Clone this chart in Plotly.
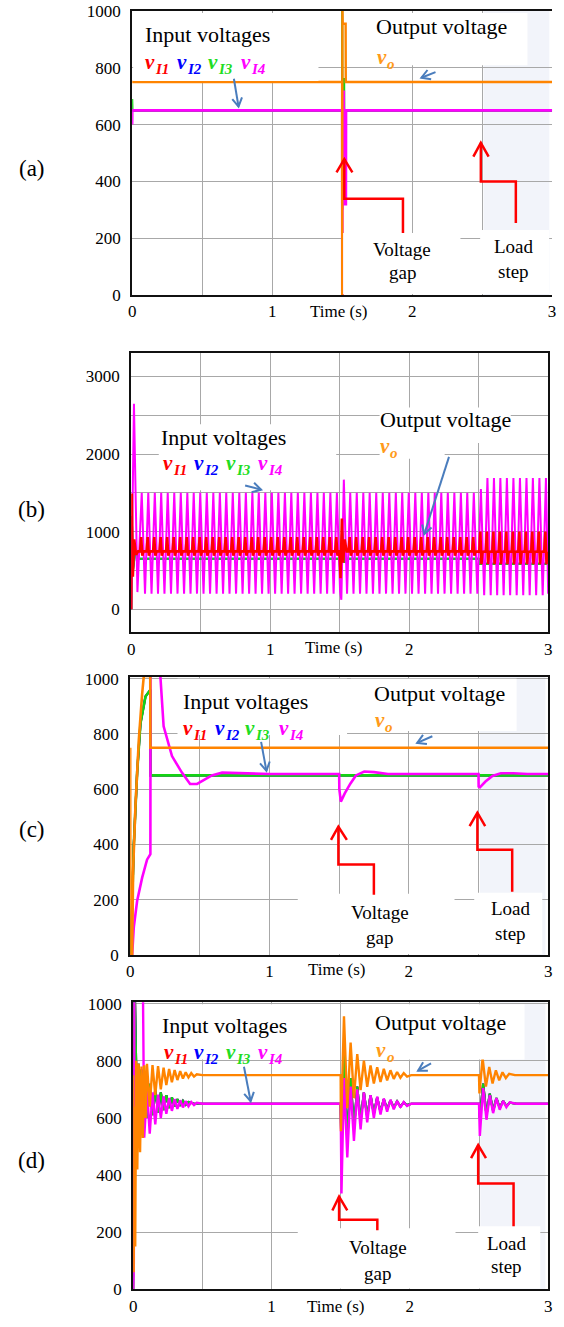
import math
import plotly.graph_objects as go

W, H = 564, 1327
SERIF = "Liberation Serif, Times New Roman, serif"

C_I1, C_I2, C_I3, C_I4, C_O = "#ff0000", "#0000ff", "#14d414", "#ff00ff", "#ff8400"
GRID = "#a8a8a8"
BLUE_ARROW = "#4a7dbd"
RED_ARROW = "#ff0000"
SHADE = "#f2f4fa"

# ---------------- axis ticks ----------------
t_tickvals = [0, 0.5, 1, 1.5, 2, 2.5, 3]
t_ticktext = ["0", " ", "1", " ", "2", " ", "3"]
v_tickvals = [0, 200, 400, 600, 800, 1000]
v_ticktext = ["0", "200", "400", "600", "800", "1000"]
vb_tickvals = [0, 500, 1000, 1500, 2000, 2500, 3000]
vb_ticktext = ["0", " ", "1000", " ", "2000", " ", "3000"]

# ---------------- (a) ----------------
a_t_vo = [0.0, 1.500, 1.5005, 1.502, 1.504, 1.525, 1.526, 3.0]
a_vo = [750, 750, 0, 1015, 955, 955, 750, 750]
a_t_vi4 = [0.0, 0.001, 1.500, 1.501, 1.502, 1.512, 1.513, 1.527, 1.528, 3.0]
a_vi4 = [600, 650, 650, 0, 500, 720, 320, 320, 650, 650]
a_t_vi3 = [0.0, 0.002, 1.500, 1.5005, 1.502, 1.503, 1.514, 1.515, 3.0]
a_vi3 = [690, 650, 650, 1000, 520, 760, 760, 650, 650]
a_t_vi12 = [0.0, 1.500, 1.501, 1.514, 1.515, 3.0]
a_vi1 = [650, 650, 300, 650, 650, 650]
a_vi2 = [650, 650, 320, 650, 650, 650]

# ---------------- (b) ----------------
b_peak_t_1 = [0.076, 0.123, 0.170, 0.216, 0.263, 0.310, 0.357, 0.404, 0.450, 0.497,
              0.544, 0.591, 0.638, 0.684, 0.731, 0.778, 0.825, 0.872, 0.918, 0.965,
              1.012, 1.059, 1.106, 1.152, 1.199, 1.246, 1.293, 1.340, 1.386, 1.433, 1.480]
b_peak_t_2 = [1.576, 1.623, 1.670, 1.716, 1.763, 1.810, 1.857, 1.904, 1.950, 1.997,
              2.044, 2.091, 2.138, 2.184, 2.231, 2.278, 2.325, 2.372, 2.418, 2.465]
b_peak_t_3 = [2.516, 2.563, 2.610, 2.656, 2.703, 2.750, 2.797, 2.844, 2.890, 2.937, 2.984]
b_vi4_peak = [1500, 1500, 1690]      # v_I4 crest level per interval
b_vi4_trough = [200, 200, 180]       # v_I4 valley level per interval
b_vi4_first_crest_3 = 1550
b_vi4_start_t, b_vi4_start = [0.0, 0.006, 0.020, 0.045], [0, 700, 2650, 220]
b_vi4_gap_t, b_vi4_gap = [1.503, 1.512, 1.530, 1.553], [230, 120, 1670, 200]
b_vi4_end_t, b_vi4_end = [3.0], [200]
b_vi1_base = [745, 745, 740]
b_vi1_spike = [930, 930, 1000]
b_vi1_dip = [690, 690, 580]
b_vi1_start_t, b_vi1_start = [0.0, 0.004, 0.012, 0.022, 0.035, 0.050], [0, 1490, 420, 900, 700, 745]
b_vi1_gap_t, b_vi1_gap = [1.500, 1.506, 1.516, 1.524, 1.536, 1.550], [745, 400, 1170, 600, 900, 745]
b_vi1_end_t, b_vi1_end = [3.0], [620]
b_t_vi3 = [0.0, 0.004, 0.012, 0.030, 0.050, 1.500, 1.506, 1.518, 1.535, 1.550, 2.500, 2.510, 3.0]
b_vi3 = [0, 1200, 500, 760, 650, 650, 420, 1000, 600, 650, 650, 585, 585]
b_t_vo = [0.0, 0.003, 3.0]
b_vo = [0, 745, 745]

# ---------------- (c) ----------------
c_t_vo = [0.0, 0.001, 0.014, 0.021, 0.038, 0.062, 0.086, 0.098, 0.144, 0.145, 3.0]
c_vo = [750, 0, 0, 304, 542, 780, 946, 1010, 1010, 750, 750]
c_t_vi3 = [0.0, 0.002, 0.014, 0.026, 0.050, 0.074, 0.110, 0.133, 0.145, 0.146, 3.0]
c_vi3 = [0, 0, 186, 399, 661, 839, 936, 954, 960, 650, 650]
c_t_vi4 = [0.0, 0.014, 0.026, 0.050, 0.086, 0.121, 0.145, 0.146, 0.200, 0.217, 0.240,
           0.300, 0.370, 0.430, 0.480, 0.586, 0.660, 0.800, 1.000,
           1.500, 1.501, 1.512, 1.540, 1.580, 1.620, 1.680, 1.750, 1.850,
           2.500, 2.501, 2.510, 2.550, 2.600, 2.660, 2.750, 2.850, 3.0]
c_vi4 = [0, 0, 101, 196, 280, 345, 365, 1100, 1100, 1007, 828,
         720, 661, 619, 619, 650, 660, 657, 655,
         655, 600, 555, 585, 620, 650, 664, 662, 655,
         655, 610, 607, 628, 648, 658, 658, 655, 655]

# ---------------- (d) ----------------
d_t_vo = [0.0, 0.004, 0.009, 0.015, 0.022, 0.030, 0.040, 0.050, 0.060, 0.070, 0.080,
          0.090, 0.100, 0.120, 0.140, 0.160, 0.180, 0.200, 0.220, 0.240, 0.260, 0.280,
          0.300, 0.320, 0.340, 0.360, 0.380, 0.400, 0.420, 0.440, 0.460, 0.500,
          1.500, 1.502, 1.524, 1.548, 1.572, 1.596, 1.620, 1.644, 1.668, 1.692, 1.716,
          1.740, 1.764, 1.788, 1.812, 1.836, 1.860, 1.884, 1.908, 1.932, 1.956, 1.980, 2.010,
          2.500, 2.503, 2.526, 2.550, 2.574, 2.598, 2.622, 2.646, 2.670, 2.694, 2.718, 2.760, 3.0]
d_vo = [750, 60, 640, 150, 800, 420, 790, 480, 780, 530, 785,
        600, 790, 640, 785, 680, 782, 700, 776, 715, 772, 725,
        768, 733, 764, 738, 760, 742, 757, 745, 753, 750,
        750, 554, 956, 634, 864, 669, 824, 698, 801, 709, 784,
        721, 778, 726, 772, 732, 767, 737, 761, 741, 757, 745, 750,
        750, 686, 810, 710, 779, 721, 767, 732, 760, 740, 755, 750, 750]
d_t_vi4 = [0.0, 0.005, 0.009, 0.070, 0.080, 0.100, 0.120, 0.140, 0.160, 0.180, 0.200,
           0.220, 0.240, 0.260, 0.280, 0.300, 0.320, 0.340, 0.360, 0.380, 0.400, 0.420,
           0.440, 0.460, 0.500,
           1.500, 1.506, 1.524, 1.548, 1.572, 1.596, 1.620, 1.644, 1.668, 1.692, 1.716,
           1.740, 1.764, 1.788, 1.812, 1.836, 1.860, 1.884, 1.908, 1.932, 1.956, 1.980, 2.010,
           2.500, 2.506, 2.530, 2.554, 2.578, 2.602, 2.626, 2.650, 2.674, 2.698, 2.722, 2.770, 3.0]
d_vi4 = [0, 80, 1100, 1100, 531, 700, 545, 690, 578, 682, 600,
         676, 615, 670, 625, 666, 632, 662, 637, 659, 641, 656,
         645, 653, 650,
         650, 336, 740, 462, 710, 520, 700, 560, 690, 585, 680,
         600, 675, 612, 668, 622, 664, 630, 660, 637, 656, 642, 650,
         650, 537, 705, 594, 680, 617, 669, 629, 660, 638, 655, 650, 650]
d_t_vi3 = [0.0, 0.004, 0.012, 0.020, 0.030, 0.040, 0.050, 0.060, 0.070, 0.080, 0.100,
           0.120, 0.140, 0.160, 0.180, 0.200, 0.220, 0.240, 0.260, 0.280, 0.300, 0.320,
           0.340, 0.360, 0.380, 0.400, 0.440,
           1.500, 1.506, 1.524, 1.548, 1.572, 1.596, 1.620, 1.644, 1.668, 1.692, 1.716,
           1.740, 1.764, 1.788, 1.812, 1.836, 1.860, 1.884, 1.908, 1.932, 1.956, 1.980, 2.010,
           2.500, 2.506, 2.530, 2.554, 2.578, 2.602, 2.626, 2.650, 2.674, 2.698, 2.722, 2.770, 3.0]
d_vi3 = [0, 1050, 1050, 790, 560, 790, 570, 770, 590, 750, 600,
         720, 610, 700, 620, 690, 628, 680, 635, 672, 640, 666,
         643, 660, 646, 656, 650,
         650, 480, 830, 520, 740, 560, 710, 590, 690, 605, 680,
         615, 672, 622, 666, 630, 662, 636, 658, 640, 655, 645, 650,
         650, 600, 720, 610, 685, 625, 670, 635, 660, 642, 654, 650, 650]

# ---------------- panel geometry (pixels) ----------------
PANELS = {
    1: dict(x=(130, 556), y=(3, 291), yr=[0, 1000], tv=v_tickvals, tt=v_ticktext, right=False),
    2: dict(x=(129, 552), y=(350, 633), yr=[-300, 3300], tv=vb_tickvals, tt=vb_ticktext, right=True),
    3: dict(x=(128, 552), y=(678, 960), yr=[0, 1007], tv=v_tickvals, tt=v_ticktext, right=True),
    4: dict(x=(131, 552), y=(1008, 1299), yr=[0, 1005], tv=v_tickvals, tt=v_ticktext, right=True),
}

fig = go.Figure()


def axn(n):
    return ("x", "y") if n == 1 else (f"x{n}", f"y{n}")


def line(n, t, v, color, width=2.2):
    xa, ya = axn(n)
    fig.add_trace(go.Scatter(x=t, y=v, mode="lines", line=dict(color=color, width=width),
                             xaxis=xa, yaxis=ya, hoverinfo="skip", showlegend=False))


def crest_wave(peak_t, peak_v, trough_v):
    t, v = [], []
    for i, tp in enumerate(peak_t):
        t.append(tp)
        v.append(peak_v[i])
        if i + 1 < len(peak_t):
            t.append((tp + peak_t[i + 1]) / 2)
            v.append(trough_v[i])
    return t, v


def spike_train(peak_t, base, spike, dip):
    t, v = [], []
    for i, tp in enumerate(peak_t):
        t += [tp - 0.012, tp - 0.004, tp + 0.004, tp + 0.012]
        v += [base[i], spike[i], dip[i], base[i]]
    return t, v


# (a)
line(1, a_t_vi12, a_vi1, C_I1)
line(1, a_t_vi12, a_vi2, C_I2)
line(1, a_t_vi3, a_vi3, C_I3)
line(1, a_t_vi4, a_vi4, C_I4, 2.6)
line(1, a_t_vo, a_vo, C_O, 2.4)

# (b)
n1, n2, n3 = len(b_peak_t_1), len(b_peak_t_2), len(b_peak_t_3)
w1t, w1v = crest_wave(b_peak_t_1, [b_vi4_peak[0]] * n1, [b_vi4_trough[0]] * n1)
w2t, w2v = crest_wave(b_peak_t_2 + b_peak_t_3,
                      [b_vi4_peak[1]] * n2 + [b_vi4_first_crest_3] + [b_vi4_peak[2]] * (n3 - 1),
                      [b_vi4_trough[1]] * n2 + [b_vi4_trough[2]] * n3)
b_t_vi4 = b_vi4_start_t + w1t + b_vi4_gap_t + w2t + b_vi4_end_t
b_vi4 = b_vi4_start + w1v + b_vi4_gap + w2v + b_vi4_end
r1t, r1v = spike_train(b_peak_t_1, [b_vi1_base[0]] * n1, [b_vi1_spike[0]] * n1, [b_vi1_dip[0]] * n1)
r2t, r2v = spike_train(b_peak_t_2 + b_peak_t_3,
                       [b_vi1_base[1]] * n2 + [b_vi1_base[2]] * n3,
                       [b_vi1_spike[1]] * n2 + [b_vi1_spike[2]] * n3,
                       [b_vi1_dip[1]] * n2 + [b_vi1_dip[2]] * n3)
b_t_vi1 = b_vi1_start_t + r1t + b_vi1_gap_t + r2t + b_vi1_end_t
b_vi1 = b_vi1_start + r1v + b_vi1_gap + r2v + b_vi1_end
line(2, b_t_vo, b_vo, C_O)
line(2, b_t_vi3, b_vi3, C_I2)
line(2, b_t_vi3, b_vi3, C_I3)
line(2, b_t_vi4, b_vi4, C_I4, 2.0)
line(2, b_t_vi1, b_vi1, C_I1, 2.6)

# (c)
line(3, c_t_vi3, c_vi3, C_I1)
line(3, c_t_vi3, c_vi3, C_I2)
line(3, c_t_vi3, c_vi3, C_I3, 2.6)
line(3, c_t_vi4, c_vi4, C_I4, 2.6)
line(3, c_t_vo, c_vo, C_O, 2.6)

# (d)
line(4, d_t_vi3, d_vi3, C_I1)
line(4, d_t_vi3, d_vi3, C_I2)
line(4, d_t_vi3, d_vi3, C_I3, 2.2)
line(4, d_t_vi4, d_vi4, C_I4, 2.4)
line(4, d_t_vo, d_vo, C_O, 2.4)

# ---------------- axes ----------------
tickfont = dict(family=SERIF, size=17, color="black")
for n, p in PANELS.items():
    xa, ya = axn(n)
    xkey = "xaxis" if n == 1 else f"xaxis{n}"
    ykey = "yaxis" if n == 1 else f"yaxis{n}"
    fig.layout[xkey] = dict(domain=[p["x"][0] / W, p["x"][1] / W], range=[0, 3], anchor=ya,
                            tickvals=t_tickvals, ticktext=t_ticktext, ticks="",
                            showgrid=True, gridcolor=GRID, gridwidth=1.3, zeroline=False,
                            showline=True, linecolor="#111", linewidth=2, mirror=True,
                            tickfont=tickfont, fixedrange=True)
    fig.layout[ykey] = dict(domain=[1 - p["y"][1] / H, 1 - p["y"][0] / H], range=p["yr"], anchor=xa,
                            tickvals=p["tv"], ticktext=p["tt"], ticks="",
                            showgrid=True, gridcolor=GRID, gridwidth=1.3, zeroline=False,
                            showline=True, linecolor="#111", linewidth=2, mirror=p["right"],
                            ticklabelstandoff=6, tickfont=tickfont, fixedrange=True)

# ---------------- shapes ----------------
shapes = []


def pp(x, y):
    return x / W, 1 - y / H


def white_box(x0, y0, x1, y1):
    u0, v1 = pp(x0, y0)
    u1, v0 = pp(x1, y1)
    shapes.append(dict(type="rect", xref="paper", yref="paper", x0=u0, x1=u1, y0=v0, y1=v1,
                       fillcolor="white", line=dict(width=0), layer="above"))


def shade(n, t0=2.51, t1=2.98):
    (a0, a1), (b0, b1) = PANELS[n]["x"], PANELS[n]["y"]
    x0 = a0 + (a1 - a0) * t0 / 3
    x1 = a0 + (a1 - a0) * t1 / 3
    u0, v1 = pp(x0, b0)
    u1, v0 = pp(x1, b1)
    shapes.append(dict(type="rect", xref="paper", yref="paper", x0=u0, x1=u1, y0=v0, y1=v1,
                       fillcolor=SHADE, line=dict(width=0), layer="below"))


def path_of(pts):
    return "M " + " L ".join(f"{x / W:.5f},{1 - y / H:.5f}" for x, y in pts)


def stroke(pts, color, width):
    shapes.append(dict(type="path", xref="paper", yref="paper", path=path_of(pts),
                       line=dict(color=color, width=width), layer="above"))


def blue_arrow(x0, y0, x1, y1, L=10, ang=30):
    stroke([(x0, y0), (x1, y1)], BLUE_ARROW, 2)
    d = math.hypot(x1 - x0, y1 - y0)
    bx, by = (x0 - x1) / d, (y0 - y1) / d
    arms = []
    for s in (1, -1):
        a = math.radians(ang) * s
        rx = bx * math.cos(a) - by * math.sin(a)
        ry = bx * math.sin(a) + by * math.cos(a)
        arms.append((x1 + L * rx, y1 + L * ry))
    stroke([arms[0], (x1, y1), arms[1]], BLUE_ARROW, 2)


def red_step_arrow(pts, arm_l, arm_r):
    stroke(pts, RED_ARROW, 2.5)
    stroke([arm_l, pts[-1], arm_r], RED_ARROW, 2.5)


for n in (1, 3, 4):
    shade(n)

# text backdrops that mask the grid behind the captions
white_box(131, 5, 319, 74)
white_box(352, 5, 531, 58)
white_box(344, 228, 463, 290)
white_box(483, 225, 553, 290)
white_box(157, 422, 337, 489)
white_box(381, 405, 514, 441)
white_box(381, 441, 447, 457)
white_box(176, 680, 348, 737)
white_box(352, 680, 520, 733)
white_box(298, 898, 457, 959)
white_box(477, 897, 546, 959)
white_box(155, 1010, 300, 1066)
white_box(368, 1010, 528, 1066)
white_box(298, 1237, 458, 1298)
white_box(481, 1235, 544, 1298)

# red step arrows
red_step_arrow([(404.7, 228), (404.7, 193.3), (345.2, 193.3), (345.2, 153.3)], (337.3, 166.7), (353.4, 166.7))
red_step_arrow([(519.2, 218), (519.2, 176), (483.7, 176), (483.7, 136.7)], (476.1, 150.7), (491.6, 150.7))
red_step_arrow([(375.2, 899), (375.2, 868.3), (339.2, 868.3), (339.2, 830)], (331.7, 843.3), (347.8, 843.3))
red_step_arrow([(515.5, 896), (515.5, 853.3), (480.2, 853.3), (480.2, 815.7)], (472.3, 829.3), (488.1, 829.3))
red_step_arrow([(378.7, 1239), (378.7, 1228.3), (339.9, 1228.3), (339.9, 1205)], (333.1, 1219), (348.2, 1219))
red_step_arrow([(516.9, 1235), (516.9, 1191.7), (481, 1191.7), (481, 1152.7)], (473.8, 1166), (488.9, 1166))

# blue pointer arrows
blue_arrow(233.2, 71.7, 237.9, 100)
blue_arrow(437.7, 65, 423.4, 70.7)
blue_arrow(244.6, 484, 260.8, 488.3)
blue_arrow(451.4, 455, 426.3, 533.3)
blue_arrow(260.8, 744, 266.2, 773.3)
blue_arrow(434.5, 738.3, 419.1, 745)
blue_arrow(243.4, 1073.3, 250.2, 1108.3)
blue_arrow(433.2, 1070, 420, 1077.3)

fig.update_layout(shapes=shapes)

# ---------------- text ----------------


def text(x, y, s, size, color="black", xanchor="center", **font):
    fig.add_annotation(x=x / W, y=1 - y / H, xref="paper", yref="paper", text=s, showarrow=False,
                       font=dict(family=SERIF, size=size, color=color, **font),
                       xanchor=xanchor, yanchor="middle", borderpad=0)


def vlabel(x, y, sub, color):
    # italic bold "v" with a smaller italic bold subscript tucked against its lower right
    text(x - 1, y - 2, "v", 21, color, xanchor="right", weight="bold", style="italic")
    text(x - 3, y + 5, sub, 15, color, xanchor="left", weight="bold", style="italic")


V_LABEL_COLORS = [("I1", C_I1), ("I2", C_I2), ("I3", "#22dd22"), ("I4", C_I4)]

panel_text = [
    # tag, tag_y, input title, v row y, v xs, output title, vo, time label, gap caption, step caption
    ("(a)", 163, (206, 27), 57, (155, 188, 219, 253), (444, 19), (388, 52), (339, 308),
     (404, 245, 268), (517, 242, 267)),
    ("(b)", 508, (223, 435), 463, (173, 205, 237, 270), (448, 417), (391, 446), (334, 648), None, None),
    ("(c)", 833, (245, 703), 732, (194, 226, 257, 291), (442, 695), (385, 724), (337, 975),
     (381, 917, 942), (514, 913, 938)),
    ("(d)", 1168, (224, 1031), 1060, (174, 205, 237, 270), (443, 1028), (387, 1058), (336, 1316),
     (379, 1257, 1283), (510, 1252, 1276)),
]

for tag, tag_y, inp, vy, vxs, outp, vo, tm, gap, step in panel_text:
    text(28, tag_y, tag, 23)
    text(inp[0], inp[1], "Input voltages", 22)
    for (sub, col), vx in zip(V_LABEL_COLORS, vxs):
        vlabel(vx, vy, sub, col)
    text(outp[0], outp[1], "Output voltage", 22)
    vlabel(vo[0] + 3, vo[1], "o", "#ff9a1a")
    text(tm[0], tm[1], "Time (s)", 17)
    if gap:
        text(gap[0], gap[1], "Voltage", 19)
        text(gap[0], gap[2], "gap", 19)
    if step:
        text(step[0], step[1], "Load", 19)
        text(step[0], step[2], "step", 19)

fig.update_layout(width=W, height=H, margin=dict(l=0, r=0, t=0, b=0),
                  paper_bgcolor="white", plot_bgcolor="white", showlegend=False)

fig.write_html("out.html")
